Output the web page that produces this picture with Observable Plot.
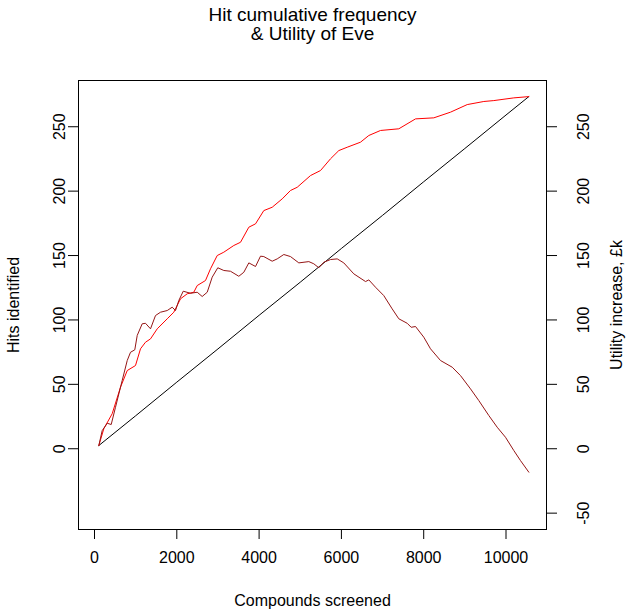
<!DOCTYPE html>
<html><head><meta charset="utf-8">
<script src="https://cdn.jsdelivr.net/npm/d3@7"></script>
<script src="https://cdn.jsdelivr.net/npm/@observablehq/plot@0.6"></script>
<style>body{margin:0;background:#fff}</style>
</head><body><div id="chart"></div>
<script>
const chartTitle = "Hit cumulative frequency\n& Utility of Eve";
const xLabel = "Compounds screened";
const yLeftLabel = "Hits identified";
const yRightLabel = "Utility increase, £k";
const xTicks = [0, 2000, 4000, 6000, 8000, 10000];
const yLeftTicks = [0, 50, 100, 150, 200, 250];
const yRightTicks = [-50, 0, 50, 100, 150, 200, 250];

// Random screening (black)
const randomCompounds = [105, 1000, 2000, 3000, 4000, 5000, 6000, 7000, 8000, 9000, 10000, 10554];
const randomHits = [2.5, 25.6, 51.7, 77.5, 103.6, 129.3, 155.5, 181.2, 207.3, 233.1, 259.1, 273.4];

// Eve cumulative hits (red)
const eveCompounds = [105,226,430,632,795,996,1118,1239,1361,1524,1767,1927,2090,2253,2413,2496,2697,2819,2982,3142,3385,3548,3750,3913,4114,4318,4561,4763,4926,5249,5492,5735,5937,6141,6464,6666,6950,7395,7801,8245,8651,9057,9461,9703,10189,10554];
const eveHits = [2.5,15.5,27.2,47.8,60.7,64.6,77.6,82.7,85.3,93.1,100.9,106,116.4,120.3,121.5,126.7,130.6,139.7,150,152.6,157.8,160.3,172,174.6,184.9,187.5,194,200.5,203,212.1,216,225.1,231.5,234.1,238,243.2,247.1,248.4,256.1,256.9,261.3,267.2,269.6,270.3,272.4,273.4];

// Utility increase, £k (dark red)
const utilityCompounds = [105,187,309,406,510,673,795,875,979,1038,1159,1239,1361,1482,1604,1767,1888,1968,2049,2156,2333,2496,2617,2739,2860,2996,3142,3305,3507,3628,3750,3913,4034,4114,4318,4440,4600,4763,4965,5208,5329,5451,5572,5735,5898,6058,6301,6586,6666,6829,7030,7234,7395,7599,7696,7801,8002,8165,8408,8693,8894,9137,9339,9582,9786,9988,10190,10352,10554];
const utility = [2.5,14.1,19.8,18.8,32.2,53,68.5,74.9,76.8,88,97,97.4,93.1,103.4,106,107.3,109.9,107.3,115.1,122.3,120.7,121.5,118.2,121.5,133.2,140.5,138.4,137.8,133.9,137,144.3,141.5,149.5,149.2,145.6,147.4,150.8,149.2,144.3,145.3,143.6,140.5,144.8,146.9,147.4,144.3,135.8,129.8,131.1,125.4,118.9,108.6,100.9,97.4,94.3,94.9,86.6,77.6,68.5,63.3,56.8,46.5,37.4,25.8,16.7,8.9,-1.4,-9.2,-18.2];

const toRows = (xs, ys) => xs.map((x, i) => ({x, y: ys[i]}));
const plain = d => String(d);

const chart = Plot.plot({
  width: 635,
  height: 613,
  marginLeft: 78,
  marginRight: 89,
  marginTop: 80,
  marginBottom: 84,
  style: {fontFamily: "'Liberation Sans', Arial, sans-serif", fontSize: "16px", background: "white", color: "black"},
  x: {domain: [-389, 10984]},
  y: {domain: [-62.7, 285.9]},
  marks: [
    Plot.frame({stroke: "black"}),
    Plot.axisX(xTicks, {tickSize: 10, tickPadding: 12, tickFormat: plain, fontSize: 16,
      label: xLabel, labelAnchor: "center", labelOffset: 76, labelArrow: "none"}),
    Plot.axisY(yLeftTicks, {anchor: "left", tickSize: 10, tickRotate: -90, tickPadding: 4, tickFormat: plain, fontSize: 16,
      label: yLeftLabel, labelAnchor: "center", labelOffset: 71, labelArrow: "none"}),
    Plot.axisY(yRightTicks, {anchor: "right", tickSize: 10, tickRotate: -90, lineAnchor: "top", tickPadding: 21, tickFormat: plain, fontSize: 16,
      label: yRightLabel, labelAnchor: "center", labelOffset: 75, labelArrow: "none"}),
    Plot.line(toRows(randomCompounds, randomHits), {x: "x", y: "y", stroke: "black", strokeWidth: 1}),
    Plot.line(toRows(eveCompounds, eveHits), {x: "x", y: "y", stroke: "#ff0000", strokeWidth: 1}),
    Plot.line(toRows(utilityCompounds, utility), {x: "x", y: "y", stroke: "#951515", strokeWidth: 1}),
    Plot.text([chartTitle], {frameAnchor: "top", dy: -41, lineAnchor: "bottom", fontSize: 19, lineHeight: 1.0, fill: "black"})
  ]
});
document.getElementById("chart").appendChild(chart);
</script>
</body></html>
